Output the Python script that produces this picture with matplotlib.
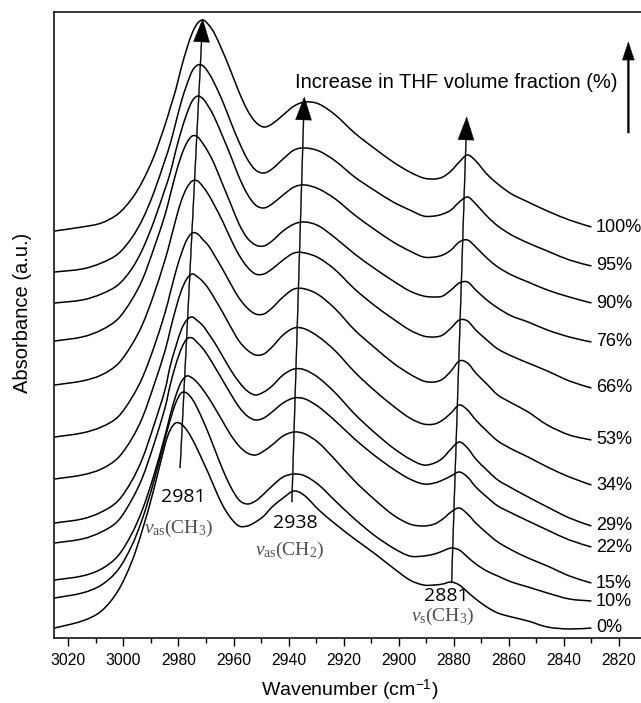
import numpy as np
import matplotlib
matplotlib.use('Agg')
import matplotlib.pyplot as plt
from matplotlib.ticker import MultipleLocator
from matplotlib.path import Path
from matplotlib.patches import PathPatch

plt.rcParams['font.family'] = 'Liberation Sans'
plt.rcParams['mathtext.fontset'] = 'custom'
plt.rcParams['mathtext.rm'] = 'Liberation Serif'
plt.rcParams['mathtext.it'] = 'Liberation Serif:italic'
plt.rcParams['mathtext.sf'] = 'Liberation Sans'

# wavenumber grid (cm-1), shared by all spectra
wavenumber = np.array([3025, 3015, 3008, 3002, 2997, 2993, 2989, 2985, 2983, 2981,
                       2979, 2977, 2975, 2973, 2971, 2969, 2967, 2964, 2961, 2958,
                       2955, 2952, 2949, 2946, 2942, 2938, 2934, 2929, 2923, 2916,
                       2909, 2902, 2896, 2891, 2887, 2884, 2881, 2878, 2875, 2872,
                       2868, 2864, 2859, 2853, 2846, 2838, 2830])

# stacked absorbance (a.u., offset already included)
a_100 = [407, 411, 415, 424, 439, 457, 481, 512, 530, 548, 570, 589, 605, 615, 618, 613,
         605, 587, 567, 546, 528, 516, 511, 514, 523, 532, 536, 534, 523, 505, 490, 476,
         466, 460, 459, 461, 467, 476, 483, 477, 464, 454, 444, 436, 427, 418, 411]
a_95 = [366, 369, 375, 384, 400, 419, 445, 477, 494, 515, 536, 553, 567, 573, 572, 565,
        555, 537, 516, 496, 479, 468, 465, 469, 479, 488, 490, 487, 477, 461, 448, 436,
        428, 422, 422, 424, 428, 436, 441, 434, 422, 412, 403, 395, 387, 378, 372]
a_90 = [335, 338, 344, 353, 369, 389, 416, 448, 465, 487, 507, 524, 537, 542, 539, 531,
        521, 502, 482, 461, 444, 433, 430, 434, 443, 451, 453, 449, 439, 423, 409, 396,
        387, 381, 381, 383, 388, 396, 398, 391, 380, 371, 363, 356, 348, 341, 335]
a_76 = [297, 301, 308, 319, 338, 359, 389, 422, 443, 464, 482, 495, 502, 501, 494, 485,
        474, 454, 434, 414, 400, 393, 392, 397, 407, 414, 416, 412, 400, 384, 370, 357,
        347, 342, 341, 342, 348, 355, 356, 348, 338, 330, 322, 316, 308, 301, 296]
a_66 = [253, 257, 263, 274, 293, 314, 343, 377, 397, 418, 437, 450, 457, 457, 451, 443,
        433, 417, 399, 383, 371, 364, 364, 369, 378, 385, 385, 380, 368, 349, 333, 319,
        308, 302, 301, 303, 310, 318, 317, 308, 298, 289, 282, 275, 267, 257, 250]
a_53 = [201, 205, 211, 221, 240, 261, 290, 324, 345, 366, 384, 398, 405, 404, 398, 392,
        383, 369, 354, 340, 330, 324, 324, 330, 341, 349, 349, 343, 329, 308, 291, 275,
        264, 257, 256, 259, 267, 277, 275, 265, 254, 243, 235, 226, 213, 203, 198]
a_34 = [159, 163, 169, 180, 199, 221, 252, 286, 308, 329, 347, 359, 364, 361, 356, 349,
        340, 326, 311, 297, 288, 283, 284, 291, 303, 310, 309, 301, 287, 266, 248, 232,
        220, 214, 214, 218, 225, 233, 228, 218, 207, 197, 189, 181, 171, 161, 153]
a_29 = [115, 119, 126, 137, 157, 180, 212, 247, 272, 291, 308, 318, 321, 317, 312, 304,
        296, 282, 268, 256, 247, 243, 246, 252, 263, 269, 268, 260, 245, 224, 206, 190,
        179, 173, 175, 180, 189, 196, 190, 179, 168, 158, 150, 141, 131, 120, 112]
a_22 = [95, 99, 106, 117, 138, 161, 193, 229, 253, 273, 289, 299, 300, 295, 289, 281,
        272, 258, 244, 231, 222, 218, 220, 226, 235, 240, 239, 231, 217, 199, 183, 169,
        159, 154, 155, 158, 162, 166, 161, 151, 141, 132, 125, 117, 108, 98, 91]
a_15 = [58, 62, 69, 82, 104, 129, 162, 201, 223, 242, 256, 262, 260, 255, 248, 240,
        231, 217, 203, 192, 185, 183, 187, 193, 202, 206, 204, 195, 178, 157, 139, 123,
        114, 112, 114, 119, 126, 130, 124, 115, 105, 96, 88, 80, 72, 62, 55]
a_10 = [40, 45, 53, 68, 92, 120, 156, 198, 218, 235, 245, 245, 239, 229, 217, 204,
        190, 169, 151, 138, 134, 137, 144, 152, 161, 164, 162, 153, 137, 119, 103, 90,
        82, 82, 84, 87, 90, 88, 81, 74, 67, 62, 56, 51, 45, 39, 37]
a_0 = [10, 17, 27, 47, 76, 109, 148, 192, 208, 215, 214, 208, 199, 188, 176, 164,
       151, 133, 120, 112, 112, 116, 122, 131, 140, 147, 142, 128, 114, 99, 85, 70,
       58, 53, 53, 54, 56, 53, 46, 39, 31, 25, 21, 17, 11, 9, 10]

spectra = [a_100, a_95, a_90, a_76, a_66, a_53, a_34, a_29, a_22, a_15, a_10, a_0]
thf_labels = ['100%', '95%', '90%', '76%', '66%', '53%', '34%', '29%', '22%', '15%', '10%', '0%']

# peak shift arrows: (wavenumber, level) at 0% end and 100% end
shift_start = [(2979.4, 170), (2938.8, 136), (2880.8, 55)]
shift_end = [(2971.2, 619), (2934.3, 541), (2875.3, 521)]

# band labels
band_pos = ['2981', '2938', '2881']
band_xy = [(2978.3, 141), (2937.7, 115), (2882.6, 42)]
mode_labels = [r'$v_{\mathrm{as}}(\mathrm{CH}_{3})$', r'$v_{\mathrm{as}}(\mathrm{CH}_{2})$',
               r'$v_{\mathrm{s}}(\mathrm{CH}_{3})$']
mode_xy = [(2979.9, 110), (2939.8, 88), (2883.9, 22)]


def smooth_path(x, y):
    # cubic curve through every measured point (drawing only)
    p = np.column_stack([x, y]).astype(float)
    ext = np.vstack([p[0], p, p[-1]])
    verts = [p[0]]
    codes = [Path.MOVETO]
    for i in range(len(p) - 1):
        p0, p1, p2, p3 = ext[i], ext[i + 1], ext[i + 2], ext[i + 3]
        verts += [p1 + (p2 - p0) / 6, p2 - (p3 - p1) / 6, p2]
        codes += [Path.CURVE4] * 3
    return Path(verts, codes)


fig = plt.figure(figsize=(6.41, 7.03), dpi=100)
ax = fig.add_axes([54 / 641, 65 / 703, 587 / 641, 626 / 703])

for spec, lab in zip(spectra, thf_labels):
    ax.add_patch(PathPatch(smooth_path(wavenumber, spec), facecolor='none',
                           edgecolor='black', lw=1.1))
    ax.text(2828.3, spec[-1], lab, ha='left', va='center', fontsize=13)

for s, e in zip(shift_start, shift_end):
    ax.annotate('', xy=e, xytext=s,
                arrowprops=dict(facecolor='black', edgecolor='black', lw=0.3,
                                width=0.7, headwidth=11.5, headlength=16.5, shrink=0))

for t, xy in zip(band_pos, band_xy):
    ax.text(xy[0], xy[1], t, ha='center', va='center', fontsize=14, family='Open Sans')
for t, xy in zip(mode_labels, mode_xy):
    ax.text(xy[0], xy[1], t, ha='center', va='center', fontsize=14, color='#505050')

# legend arrow for THF fraction
ax.annotate('', xy=(2816.6, 596), xytext=(2816.6, 505),
            arrowprops=dict(facecolor='black', edgecolor='black', lw=0.3,
                            width=1.3, headwidth=8.6, headlength=13, shrink=0))
ax.text(2820.4, 555, 'Increase in THF volume fraction (%)', ha='right', va='center',
        fontsize=14.5)

ax.set_xlim(3025.2, 2812)
ax.set_ylim(0, 626)
ax.xaxis.set_major_locator(MultipleLocator(20))
ax.xaxis.set_minor_locator(MultipleLocator(10))
ax.tick_params(axis='x', which='major', direction='out', length=6, width=1, labelsize=11.3, pad=5)
ax.tick_params(axis='x', which='minor', direction='out', length=3.6, width=1)
ax.set_yticks([])
ax.spines['right'].set_visible(False)
for sp in ['left', 'top', 'bottom']:
    ax.spines[sp].set_linewidth(1.1)

ax.set_xlabel('Wavenumber (cm$^{\\mathsf{-1}}$)', fontsize=14)
ax.set_ylabel('Absorbance (a.u.)', fontsize=14.5)
ax.xaxis.set_label_coords(0.504, -0.063)
ax.yaxis.set_label_coords(-0.037, 0.52)

fig.savefig('out.png', dpi=100)
